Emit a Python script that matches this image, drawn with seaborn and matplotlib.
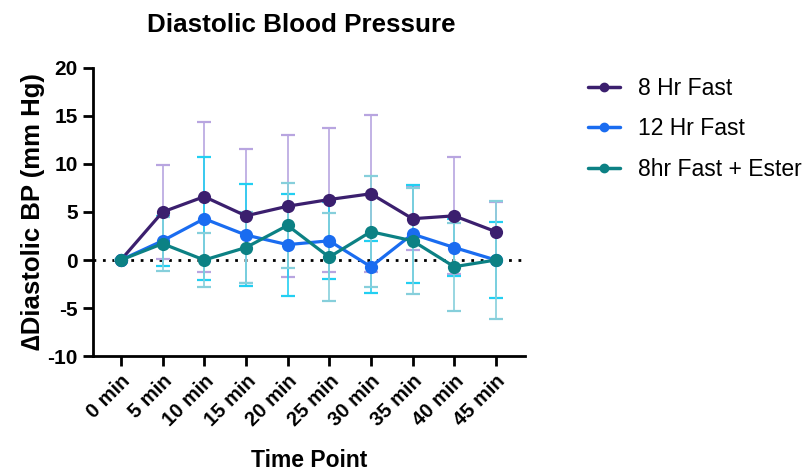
import numpy as np
import pandas as pd
import matplotlib
matplotlib.use("Agg")
import matplotlib.pyplot as plt
import seaborn as sns
from matplotlib.lines import Line2D

time_labels = ["0 min", "5 min", "10 min", "15 min", "20 min",
               "25 min", "30 min", "35 min", "40 min", "45 min"]
series_names = ["8 Hr Fast", "12 Hr Fast", "8hr Fast + Ester"]

fast8_mean = [0, 5.0, 6.6, 4.6, 5.6, 6.3, 6.9, 4.3, 4.6, 2.95]
fast8_err = [0, 4.9, 7.8, 7.0, 7.4, 7.5, 8.2, 3.3, 6.1, 3.1]
fast12_mean = [0, 2.0, 4.3, 2.6, 1.6, 2.0, -0.7, 2.7, 1.3, 0]
fast12_err = [0, 2.6, 6.4, 5.3, 5.3, 4.0, 2.7, 5.1, 3.0, 4.0]
ester_mean = [0, 1.7, 0, 1.3, 3.6, 0.3, 2.95, 2.0, -0.7, 0]
ester_err = [0, 2.8, 2.85, 3.7, 4.4, 4.6, 5.8, 5.5, 4.6, 6.1]

line_colors = ["#3b1f6e", "#1a6cf0", "#0c8184"]
err_colors = ["#b8a5e0", "#22cff2", "#86cfdb"]

means = [fast8_mean, fast12_mean, ester_mean]
errs = [fast8_err, fast12_err, ester_err]

rows = []
for name, m, e in zip(series_names, means, errs):
    for i, (mv, ev) in enumerate(zip(m, e)):
        rows.append({"Series": name, "pos": i, "Time": time_labels[i], "mean": mv, "err": ev})
df = pd.DataFrame(rows)

sns.set_style("ticks")
plt.rcParams['font.family'] = ['Liberation Sans', 'DejaVu Sans']
plt.rcParams['axes.unicode_minus'] = False
for k in ["text.color", "axes.labelcolor", "xtick.color", "ytick.color", "axes.edgecolor"]:
    plt.rcParams[k] = "black"

fig = plt.figure(figsize=(8.05, 4.75), dpi=100)
ax = fig.add_axes([93/805, (475-356)/475, (525-93)/805, (356-68)/475])

# error bars
for name, ec in zip(series_names, err_colors):
    sub = df[df["Series"] == name]
    ax.errorbar(sub["pos"], sub["mean"], yerr=sub["err"], fmt="none",
                ecolor=ec, elinewidth=1.2, capsize=5, capthick=1.6, zorder=2)

ax.axhline(0, color="black", linestyle=(0, (1, 2.4)), linewidth=2, zorder=1.5)

sns.lineplot(data=df, x="pos", y="mean", hue="Series", hue_order=series_names,
             palette=line_colors, marker="o", markersize=9.5, markeredgewidth=0,
             linewidth=2.3, ax=ax, legend=False, zorder=3, errorbar=None)

ax.set_xlim(-0.67, 9.7)
ax.set_ylim(-10, 20)
ax.set_yticks([-10, -5, 0, 5, 10, 15, 20])
ax.set_xticks(range(len(time_labels)))
ax.set_xticklabels(time_labels, rotation=45, ha="right", rotation_mode="anchor",
                   fontweight="bold", fontsize=14.5)
for lab in ax.get_yticklabels():
    lab.set_fontweight("bold")
    lab.set_fontsize(15)

for s in ["top", "right"]:
    ax.spines[s].set_visible(False)
for s in ["left", "bottom"]:
    ax.spines[s].set_linewidth(2)
    ax.spines[s].set_color("black")
ax.tick_params(axis="both", direction="out", length=7, width=2, pad=4, colors="black")

ax.set_xlabel("Time Point", fontsize=16.5, fontweight="bold", labelpad=14)
ax.set_ylabel("\u2206Diastolic BP (mm Hg)", fontsize=18.5, fontweight="bold", labelpad=2)
ax.set_title("Diastolic Blood Pressure", fontsize=18.7, fontweight="bold", pad=26, x=0.483)

handles = [Line2D([0], [0], color=c, linewidth=2.5, marker="o", markersize=6)
           for c in line_colors]
fig.legend(handles, series_names, loc="upper left", bbox_to_anchor=(588/805, 1 - 77/475),
           frameon=False, fontsize=16.5, handlelength=1.4, labelspacing=0.76,
           handletextpad=0.8, borderpad=0, borderaxespad=0)

fig.savefig("out.png", dpi=100)
